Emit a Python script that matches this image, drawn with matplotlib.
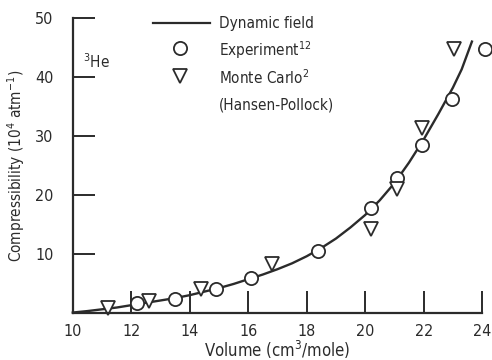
import matplotlib
matplotlib.use("Agg")
import matplotlib.pyplot as plt

# dynamic field curve
curve_v = [10, 10.5, 11, 11.5, 12, 12.5, 13, 13.5, 14, 14.5, 15, 15.5, 16,
           16.5, 17, 17.5, 18, 18.5, 19, 19.5, 20, 20.5, 21, 21.5, 22, 22.5,
           23, 23.3, 23.65]
curve_k = [0.05, 0.3, 0.6, 0.9, 1.3, 1.7, 2.1, 2.5, 3.0, 3.6, 4.2, 4.9, 5.7,
           6.5, 7.4, 8.4, 9.6, 11.0, 12.6, 14.5, 16.6, 19.1, 22.0, 25.5, 29.4,
           33.7, 38.2, 41.3, 46.0]

# experiment (ref 12)
exp_v = [12.2, 13.5, 14.9, 16.1, 18.4, 20.2, 21.1, 21.95, 22.98, 24.1]
exp_k = [1.7, 2.4, 4.1, 5.9, 10.5, 17.8, 22.8, 28.4, 36.3, 44.8]

# Monte Carlo (Hansen-Pollock)
mc_v = [11.2, 12.6, 14.4, 16.8, 20.2, 21.1, 21.95, 23.05]
mc_k = [0.9, 2.0, 4.1, 8.2, 14.3, 21.0, 31.3, 44.8]

ink = "#2b2b2b"
plt.rcParams["font.family"] = ["DejaVu Sans"]
plt.rcParams["font.stretch"] = "condensed"

fig = plt.figure(figsize=(4.92, 3.6), dpi=100)
ax = fig.add_axes([0.148, 0.131, 0.832, 0.819])

ax.plot(curve_v, curve_k, color=ink, lw=1.7, clip_on=False)
ax.plot(exp_v, exp_k, "o", ms=9.5, mfc="white", mec=ink, mew=1.3, clip_on=False)
ax.plot(mc_v, mc_k, "v", ms=10, mfc="white", mec=ink, mew=1.3, clip_on=False)

ax.set_xlim(10, 24)
ax.set_ylim(0, 50)
ax.set_xticks(range(10, 25, 2))
ax.set_yticks([10, 20, 30, 40, 50])
ax.spines["top"].set_visible(False)
ax.spines["right"].set_visible(False)
for s in ("left", "bottom"):
    ax.spines[s].set_color(ink)
    ax.spines[s].set_linewidth(1.6)
ax.tick_params(direction="in", length=16, width=1.4, color=ink,
               labelcolor=ink, labelsize=11.5)
ax.tick_params(axis="y", pad=14)
ax.tick_params(axis="x", pad=8)

ax.set_xlabel("Volume (cm$^3$/mole)", fontsize=12, color=ink, labelpad=0)
ax.set_ylabel("Compressibility (10$^4$ atm$^{-1}$)", fontsize=11, color=ink,
              labelpad=6)

# legend, drawn by hand like the original
ax.text(0.026, 0.83, "$^3$He", transform=ax.transAxes, fontsize=11, color=ink)
ax.plot([0.195, 0.335], [0.983, 0.983], transform=ax.transAxes,
        color=ink, lw=1.6, clip_on=False)
ax.plot([0.263], [0.898], "o", transform=ax.transAxes, ms=9.5, mfc="white",
        mec=ink, mew=1.3, clip_on=False)
ax.plot([0.263], [0.804], "v", transform=ax.transAxes, ms=10, mfc="white",
        mec=ink, mew=1.3, clip_on=False)
labels = ["Dynamic field", "Experiment$^{12}$", "Monte Carlo$^2$",
          "(Hansen-Pollock)"]
for i, lab in enumerate(labels):
    ax.text(0.358, 0.983 - i * 0.093, lab, transform=ax.transAxes,
            fontsize=11, color=ink, va="center")

fig.savefig("out.png", dpi=100)
